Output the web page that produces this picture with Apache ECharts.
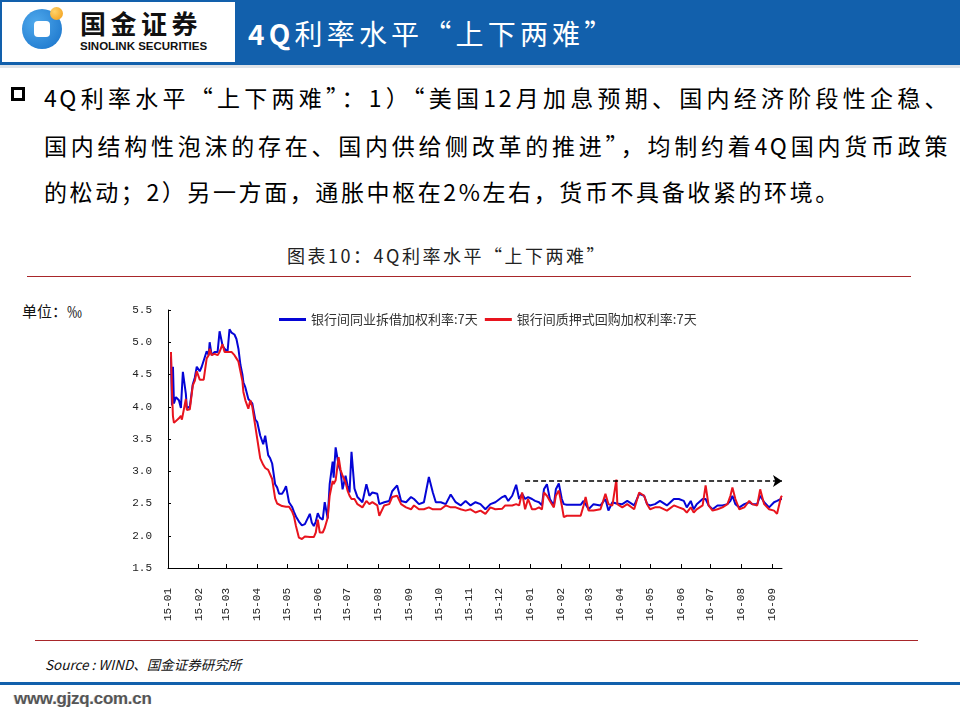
<!DOCTYPE html>
<html><head><meta charset="utf-8">
<script src="https://cdn.jsdelivr.net/npm/echarts@6/dist/echarts.min.js"></script>
<style>
html,body{margin:0;padding:0;background:#fff;}
#page{position:relative;width:960px;height:720px;overflow:hidden;font-family:"Noto Sans CJK SC",sans-serif;color:#000;}
.abs{position:absolute;white-space:nowrap;}
#chart{position:absolute;left:0;top:0;width:960px;height:720px;}
.para{position:absolute;left:44px;font-size:23px;line-height:34px;letter-spacing:2.6px;white-space:nowrap;}
.just{width:906px;text-align:justify;text-align-last:justify;}
</style></head>
<body><div id="page">
<div class="abs" style="left:0;top:0;width:237px;height:65px;box-sizing:border-box;border:2px solid #1260AC;border-bottom-width:3px;background:#fff;"></div>
<div class="abs" style="left:22px;top:9px;width:40px;height:40px;border-radius:50%;background:radial-gradient(circle at 35% 35%,#4FA9EC,#1670C8);"></div>
<div class="abs" style="left:34px;top:21px;width:16px;height:16px;border-radius:4px;background:#fff;"></div>
<div class="abs" style="left:50px;top:7px;width:13px;height:13px;border-radius:50%;background:radial-gradient(circle at 35% 35%,#FFD36A,#F29A12);"></div>
<div class="abs" style="left:80px;top:5px;font-size:26px;line-height:36px;font-weight:bold;letter-spacing:4.5px;color:#111;">国金证券</div>
<div class="abs" style="left:80px;top:39px;font-family:'Liberation Sans',Arial,sans-serif;font-size:11.5px;line-height:14px;font-weight:bold;color:#111;">SINOLINK SECURITIES</div>
<div class="abs" style="left:237px;top:0;width:723px;height:65px;background:#1260AC;"></div>
<div class="abs" style="left:0;top:65px;width:960px;height:3px;background:#dfe3e8;"></div>
<div class="abs" style="left:248px;top:13px;font-size:28px;line-height:40px;color:#fff;letter-spacing:4.2px;"><b>4Q</b>利率水平“上下两难”</div>

<div class="abs" style="left:11px;top:87px;width:14px;height:14px;box-sizing:border-box;border:3px solid #000;"></div>
<div class="para just" style="top:80px;">4Q利率水平“上下两难”：1）“美国12月加息预期、国内经济阶段性企稳、</div>
<div class="para just" style="top:128px;">国内结构性泡沫的存在、国内供给侧改革的推进”，均制约着4Q国内货币政策</div>
<div class="para" style="top:174px;">的松动；2）另一方面，通胀中枢在2%左右，货币不具备收紧的环境。</div>

<div class="abs" style="left:0;width:894px;top:243px;text-align:center;font-size:18px;line-height:24px;letter-spacing:2.5px;color:#222;">图表10：4Q利率水平“上下两难”</div>
<div class="abs" style="left:27px;top:276px;width:884px;height:1px;background:#A8262A;"></div>
<div class="abs" style="left:22px;top:302px;font-size:15px;line-height:18px;color:#111;">单位：‰</div>
<div class="abs" style="left:35px;top:640px;width:883px;height:1px;background:#A8262A;"></div>
<div class="abs" style="left:45px;top:655px;font-size:13.5px;line-height:18px;font-style:italic;color:#111;">Source : WIND、国金证券研究所</div>
<div class="abs" style="left:0;top:682px;width:960px;height:3px;background:#1260AC;"></div>
<div class="abs" style="left:14px;top:689px;font-family:'Liberation Sans',Arial,sans-serif;font-size:17px;line-height:20px;font-weight:bold;color:#555;letter-spacing:-0.3px;text-shadow:1px 1px 0 #fff,-1px 0 0 #ddd;">www.gjzq.com.cn</div>
<div id="chart"></div>
</div>
<script>
// ---- data ----
const seriesNames = ['银行间同业拆借加权利率:7天', '银行间质押式回购加权利率:7天'];
const dates = [
 '2015-01-04','2015-01-05','2015-01-06','2015-01-07','2015-01-09','2015-01-12','2015-01-14','2015-01-15','2015-01-16','2015-01-19','2015-01-20','2015-01-23','2015-01-26','2015-01-28','2015-01-30',
 '2015-02-02','2015-02-04','2015-02-06','2015-02-09','2015-02-11','2015-02-12','2015-02-14','2015-02-17','2015-02-20','2015-02-22','2015-02-25','2015-02-27',
 '2015-03-02','2015-03-04','2015-03-06','2015-03-09','2015-03-11','2015-03-13','2015-03-15','2015-03-17','2015-03-18','2015-03-20','2015-03-23','2015-03-25','2015-03-27','2015-03-30',
 '2015-04-01','2015-04-04','2015-04-07','2015-04-09','2015-04-12','2015-04-14','2015-04-16','2015-04-19','2015-04-21','2015-04-23','2015-04-26','2015-04-28','2015-04-30',
 '2015-05-03','2015-05-06','2015-05-08','2015-05-10','2015-05-13','2015-05-16','2015-05-19','2015-05-21','2015-05-24','2015-05-26','2015-05-28','2015-05-30',
 '2015-06-01','2015-06-03','2015-06-06','2015-06-08','2015-06-11','2015-06-13','2015-06-16','2015-06-17','2015-06-19','2015-06-22','2015-06-24','2015-06-26','2015-06-29',
 '2015-07-01','2015-07-03','2015-07-05','2015-07-08','2015-07-11','2015-07-16','2015-07-20','2015-07-23','2015-07-26','2015-07-31',
 '2015-08-02','2015-08-07','2015-08-12','2015-08-15','2015-08-20','2015-08-24','2015-08-29',
 '2015-09-03','2015-09-06','2015-09-11','2015-09-16','2015-09-21','2015-09-25','2015-09-28',
 '2015-10-03','2015-10-08','2015-10-13','2015-10-18','2015-10-23','2015-10-28',
 '2015-11-02','2015-11-07','2015-11-12','2015-11-17','2015-11-22','2015-11-27',
 '2015-12-04','2015-12-07','2015-12-10','2015-12-14','2015-12-18','2015-12-21','2015-12-24','2015-12-27','2015-12-30',
 '2016-01-03','2016-01-06','2016-01-10','2016-01-13','2016-01-15','2016-01-18','2016-01-21','2016-01-25','2016-01-27','2016-01-30',
 '2016-02-02','2016-02-04','2016-02-07','2016-02-14','2016-02-21','2016-02-24','2016-02-26','2016-02-29',
 '2016-03-05','2016-03-12','2016-03-17','2016-03-20','2016-03-24','2016-03-28','2016-03-29',
 '2016-04-03','2016-04-08','2016-04-15','2016-04-20','2016-04-25','2016-04-28',
 '2016-05-01','2016-05-06','2016-05-11','2016-05-18','2016-05-25','2016-05-30',
 '2016-06-04','2016-06-07','2016-06-11','2016-06-14','2016-06-17','2016-06-23','2016-06-26','2016-06-29',
 '2016-07-03','2016-07-08','2016-07-13','2016-07-18','2016-07-21','2016-07-23','2016-07-26','2016-07-30',
 '2016-08-04','2016-08-09','2016-08-12','2016-08-17','2016-08-20','2016-08-24','2016-08-29',
 '2016-09-03','2016-09-06','2016-09-10','2016-09-11'
];
const interbankLending7d = [
 4.78,4.02,4.62,4.05,4.15,4.10,3.98,4.00,4.54,4.20,3.98,4.00,4.35,4.45,4.62,
 4.55,4.62,4.60,4.86,4.80,5.00,4.80,4.85,4.85,5.17,4.95,4.90,
 4.85,5.20,5.15,5.12,5.05,4.90,4.65,4.50,4.38,4.30,4.12,4.12,4.05,3.80,
 3.76,3.55,3.42,3.55,3.25,3.20,3.12,2.80,2.75,2.65,2.65,2.70,2.77,
 2.52,2.45,2.37,2.30,2.22,2.16,2.18,2.20,2.34,2.20,2.15,2.22,
 2.35,2.28,2.25,2.52,2.27,2.80,3.15,2.90,3.37,3.09,3.00,2.72,2.93,
 2.78,2.67,3.30,2.73,2.60,2.52,2.80,2.62,2.67,2.65,
 2.49,2.52,2.54,2.69,2.78,2.54,2.52,
 2.60,2.57,2.49,2.52,2.91,2.67,2.52,
 2.52,2.49,2.64,2.52,2.47,2.54,
 2.47,2.52,2.49,2.41,2.49,2.52,
 2.60,2.62,2.54,2.62,2.79,2.57,2.65,2.57,2.60,
 2.57,2.54,2.52,2.47,2.72,2.80,2.57,2.47,2.72,2.81,
 2.57,2.49,2.48,2.48,2.48,2.54,2.57,2.41,
 2.49,2.47,2.57,2.39,2.52,2.50,2.52,
 2.49,2.54,2.47,2.65,2.62,2.49,
 2.47,2.49,2.54,2.47,2.57,2.57,
 2.54,2.44,2.54,2.41,2.49,2.57,2.57,2.47,
 2.41,2.47,2.47,2.49,2.54,2.62,2.49,2.44,
 2.49,2.52,2.49,2.49,2.62,2.52,2.44,
 2.52,2.54,2.57,2.57
];
const pledgedRepo7d = [
 4.85,4.25,3.85,3.75,3.78,3.82,3.86,3.80,3.82,4.12,3.95,3.96,4.33,4.40,4.55,
 4.42,4.40,4.42,4.75,4.80,4.90,4.80,4.82,4.80,4.85,4.97,4.85,
 4.85,4.88,4.85,4.80,4.75,4.70,4.55,4.40,4.23,4.10,3.97,4.10,4.00,3.70,
 3.50,3.20,3.10,3.05,3.02,3.00,2.88,2.58,2.50,2.48,2.46,2.45,2.45,
 2.45,2.38,2.30,2.15,1.97,1.95,1.99,2.00,1.98,2.00,1.98,2.05,
 2.25,2.05,2.05,2.12,2.28,2.62,2.85,2.80,2.86,3.22,3.02,2.93,2.83,
 2.70,2.62,2.57,2.57,2.49,2.44,2.54,2.49,2.52,2.47,
 2.31,2.47,2.49,2.60,2.62,2.49,2.44,
 2.41,2.47,2.41,2.41,2.44,2.41,2.41,
 2.41,2.47,2.44,2.44,2.41,2.39,
 2.41,2.36,2.39,2.34,2.44,2.41,
 2.42,2.47,2.47,2.47,2.49,2.47,2.67,2.41,2.57,
 2.41,2.41,2.44,2.41,2.67,2.62,2.54,2.44,2.62,2.70,
 2.47,2.29,2.31,2.31,2.31,2.47,2.60,2.39,
 2.39,2.41,2.65,2.49,2.47,2.87,2.49,
 2.44,2.49,2.41,2.67,2.62,2.49,
 2.41,2.44,2.44,2.39,2.47,2.44,
 2.41,2.36,2.44,2.36,2.41,2.47,2.78,2.47,
 2.39,2.41,2.44,2.49,2.62,2.75,2.57,2.41,
 2.44,2.54,2.49,2.47,2.72,2.49,2.41,
 2.39,2.34,2.60,2.62
];
// x-axis range and annotation arrow (level ~2.85 from late Dec 2015 to end)
const axisStart = '2015-01-01';
const axisEnd = '2016-09-11';
const arrowStart = '2015-12-27';
const arrowEnd = '2016-09-11';
const arrowLevel = 2.85;
const yTicks = [1.5, 2.0, 2.5, 3.0, 3.5, 4.0, 4.5, 5.0, 5.5];

function ts(s){ const p = s.split('-').map(Number); return new Date(p[0], p[1]-1, p[2]).getTime(); }
const DAY = 86400000;
const pad = n => (n < 10 ? '0' : '') + n;

const chart = echarts.init(document.getElementById('chart'), null, {renderer:'canvas', width:960, height:720});
const option = {
  animation: false,
  backgroundColor: 'transparent',
  grid: {left: 168, right: 178, top: 310, bottom: 152, containLabel: false},
  legend: {
    left: 274, top: 308, itemWidth: 27, itemHeight: 3, itemGap: 7, icon: 'rect',
    textStyle: {fontSize: 13, color: '#333', fontFamily: 'Noto Sans CJK SC'},
    data: seriesNames
  },
  xAxis: {
    type: 'time', min: ts(axisStart), max: ts(axisEnd),
    splitNumber: 20, minInterval: 28*DAY, maxInterval: 31*DAY,
    axisLine: {show: true, lineStyle: {color: '#000', width: 1}},
    axisTick: {show: true, inside: true, length: 4, lineStyle: {color: '#000'}},
    minorTick: {show: false},
    splitLine: {show: false},
    axisLabel: {
      rotate: 90, margin: 20, fontFamily: 'Liberation Mono', fontSize: 11, color: '#222',
      showMaxLabel: false, hideOverlap: false,
      formatter: function (v) { const d = new Date(v); return String(d.getFullYear()).slice(2) + '-' + pad(d.getMonth()+1); }
    }
  },
  yAxis: {
    type: 'value', min: yTicks[0], max: yTicks[yTicks.length-1], interval: 0.5,
    axisLine: {show: true, lineStyle: {color: '#000', width: 1}},
    axisTick: {show: true, inside: true, length: 3, lineStyle: {color: '#000'}},
    splitLine: {show: false},
    axisLabel: {margin: 16, fontFamily: 'Liberation Mono', fontSize: 11, color: '#222',
      formatter: v => v.toFixed(1)}
  },
  series: [
    {
      name: seriesNames[0], type: 'line', showSymbol: false, symbol: 'none',
      lineStyle: {color: '#0505D6', width: 2}, itemStyle: {color: '#0505D6'},
      data: dates.map((d, i) => [ts(d), interbankLending7d[i]])
    },
    {
      name: seriesNames[1], type: 'line', showSymbol: false, symbol: 'none',
      lineStyle: {color: '#E8141E', width: 2}, itemStyle: {color: '#E8141E'},
      data: dates.map((d, i) => [ts(d), pledgedRepo7d[i]]),
      markLine: {
        silent: true, symbol: ['none', 'arrow'], symbolSize: 9,
        label: {show: false},
        lineStyle: {color: '#000', width: 1.5, type: [5, 3]},
        data: [[{coord: [ts(arrowStart), arrowLevel]}, {coord: [ts(arrowEnd), arrowLevel]}]]
      }
    }
  ]
};
chart.setOption(option);
</script>
</body></html>
